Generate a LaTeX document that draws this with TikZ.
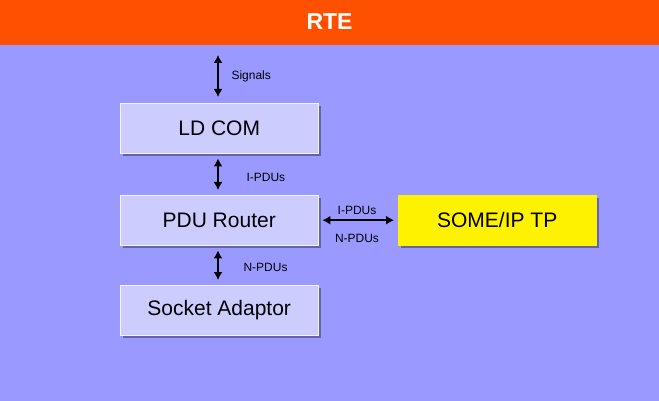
\documentclass[tikz,border=0pt]{standalone}
\usepackage{fontspec}
\setmainfont{Liberation Sans}
\usetikzlibrary{arrows.meta}
\definecolor{bg}{HTML}{9999FF}
\definecolor{bar}{HTML}{FF5000}
\definecolor{boxf}{HTML}{CCCCFF}
\begin{document}
\begin{tikzpicture}[x=1pt,y=-1pt,
 box/.style={draw=white!80!boxf,fill=boxf,minimum width=198pt,minimum height=50pt,inner sep=0pt,font=\fontsize{21}{24}\selectfont,anchor=north west},
 sh/.style={fill=black!35!bg},
 arr/.style={{Latex[length=8pt,width=9pt]}-{Latex[length=8pt,width=9pt]},line width=1.5pt},
 lab/.style={font=\fontsize{12}{14}\selectfont}]
\useasboundingbox (0,0) rectangle (659,401);
\fill[bg] (0,0) rectangle (659,401);
\fill[bar] (0,0) rectangle (659,45);
\node[font=\bfseries\fontsize{23}{26}\selectfont,text=white] (rte) at (329.5,22) {RTE};
\foreach \x/\y in {120/103,120/195,120/285,398/195}{\fill[sh] (\x+3,\y+3) rectangle ++(198,50);}
\node[box] (ld) at (120,103) {LD COM};
\node[box] (pdu) at (120,195) {PDU Router};
\node[box] (sock) at (120,285) {Socket Adaptor};
\node[box,fill=yellow,draw=yellow] (tp) at (398,195) {SOME/IP TP};
\coordinate (s1) at (218,55);
\draw[arr] (s1) -- ([yshift=6pt]ld.north -| s1);
\node[lab,anchor=west] (sl) at (228,76) {Signals};
\draw[arr] ([yshift=-5pt]ld.south -| s1) -- ([yshift=5pt]pdu.north -| s1);
\node[lab,anchor=west] (il) at (243,177) {I-PDUs};
\draw[arr] ([yshift=-5pt]pdu.south -| s1) -- ([yshift=5pt]sock.north -| s1);
\node[lab,anchor=west] (nl) at (240,267) {N-PDUs};
\draw[arr] ([xshift=4pt]pdu.east) -- ([xshift=-4pt]tp.west);
\node[lab] (il2) at (357,210) {I-PDUs};
\node[lab] (nl2) at (357,238) {N-PDUs};
\end{tikzpicture}
\end{document}
